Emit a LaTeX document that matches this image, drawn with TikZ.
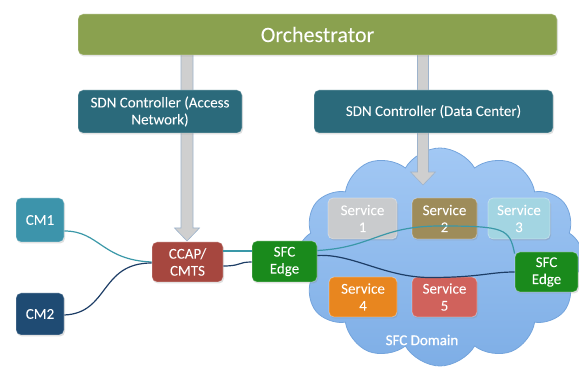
\documentclass[tikz,border=0pt]{standalone}
\usepackage{fontspec}
\setmainfont{Carlito}[FakeBold=0.8,AutoFakeBold=0]
\newfontfamily\boxfont{Carlito}[FakeBold=0.9]
\usetikzlibrary{shapes.symbols,shadows}
\definecolor{orchc}{HTML}{8AA14F}
\definecolor{sdnc}{HTML}{2B6A7B}
\definecolor{cmonec}{HTML}{3D94AB}
\definecolor{cmtwoc}{HTML}{1F4B73}
\definecolor{ccapc}{HTML}{A6473F}
\definecolor{sfcc}{HTML}{1A8A1C}
\definecolor{svonec}{HTML}{C9CBCD}
\definecolor{svtwoc}{HTML}{9E8C5A}
\definecolor{svthreec}{HTML}{A3D5E2}
\definecolor{svfourc}{HTML}{E8861F}
\definecolor{svfivec}{HTML}{D0625C}
\definecolor{tealline}{HTML}{3A98A8}
\definecolor{navyline}{HTML}{1D3D66}
\definecolor{cloudtop}{HTML}{A2C8F4}
\definecolor{cloudbot}{HTML}{7EAEE6}
\definecolor{cloudedge}{HTML}{74A4DC}
\definecolor{arrowfill}{HTML}{CFCFCF}
\definecolor{arrowedge}{HTML}{9DB3CC}
\tikzset{
  box/.style={rounded corners=5pt, text=white, align=center, inner sep=0pt,
    font=\boxfont\fontsize{15}{17}\selectfont, draw=white, draw opacity=0.35, line width=0.8pt,
    drop shadow={shadow xshift=1pt, shadow yshift=-1.5pt, opacity=0.25}},
  conn/.style={line width=1.2pt},
  garrow/.style={fill=arrowfill, draw=arrowedge, line width=0.6pt, line join=miter},
}
\newcommand{\grayarrow}[4]{% x, ytop, ybot, shaft half width
  \draw[garrow] (#1-#4,#2) -- (#1+#4,#2) -- (#1+#4,#3-13) -- (#1+12.5,#3-13) -- (#1,#3) -- (#1-12.5,#3-13) -- (#1-#4,#3-13) -- cycle;}
\begin{document}
\begin{tikzpicture}[x=1pt,y=-1pt]
\useasboundingbox (0,0) rectangle (579,371);
% cloud
\node[cloud, cloud puffs=12, cloud puff arc=120, aspect=1.3, minimum width=286pt, minimum height=218pt,
  top color=cloudtop, bottom color=cloudbot, draw=cloudedge, line width=0.8pt, inner sep=0pt] (dom) at (440,257) {};
\node[text=white, font=\boxfont\fontsize{15}{17}\selectfont] (domlabel) at (422,340) {SFC Domain};
% gray arrows
\grayarrow{187}{54}{241}{6}
\grayarrow{423}{54}{185}{5.5}
% top
\node[box, fill=orchc, minimum width=479pt, minimum height=41pt, font=\boxfont\fontsize{22}{24}\selectfont] (orch) at (317.5,34.5) {Orchestrator};
\node[box, fill=sdnc, minimum width=164pt, minimum height=43pt] (sdnA) at (160,111.5) {SDN Controller (Access\\Network)};
\node[box, fill=sdnc, minimum width=239pt, minimum height=43pt] (sdnD) at (433.5,111.5) {SDN Controller (Data Center)};
% access
\node[box, fill=cmonec, minimum width=48pt, minimum height=44pt] (cm1) at (40,220) {CM1};
\node[box, fill=cmtwoc, minimum width=48pt, minimum height=42pt] (cm2) at (40,314) {CM2};
\node[box, fill=ccapc, minimum width=71pt, minimum height=40pt] (ccap) at (187.5,262) {CCAP/\\CMTS};
\node[box, fill=sfcc, minimum width=65pt, minimum height=41pt] (sfcL) at (284.5,261.5) {SFC\\Edge};
% services
\node[box, fill=svonec, minimum width=69pt, minimum height=41pt] (s1) at (362.5,218.5) {Service\\1};
\node[box, fill=svtwoc, minimum width=65pt, minimum height=41pt] (s2) at (444.5,218.5) {Service\\2};
\node[box, fill=svthreec, minimum width=62pt, minimum height=41pt] (s3) at (519,218.5) {Service\\3};
\node[box, fill=svfourc, minimum width=68pt, minimum height=40pt] (s4) at (363,297) {Service\\4};
\node[box, fill=svfivec, minimum width=65pt, minimum height=40pt] (s5) at (444.5,297) {Service\\5};
\node[box, fill=sfcc, minimum width=63pt, minimum height=40pt] (sfcR) at (546.5,272) {SFC\\Edge};
% connectors
\draw[conn, tealline] ([yshift=-11pt]cm1.east) .. controls +(35,0) and +(-50,-2) .. (ccap.west);
\draw[conn, navyline] ([yshift=-1pt]cm2.east) .. controls +(45,-2) and +(-52,0) .. ([yshift=-1pt]ccap.west);
\draw[conn, tealline] ([yshift=11pt]ccap.east) -- ([yshift=10.5pt]sfcL.west);
\draw[conn, navyline] ([yshift=-4pt]ccap.east) .. controls +(18,0) and +(-14,0) .. ([yshift=-0.5pt]sfcL.west);
\coordinate (tmid) at (440,226);
\draw[conn, tealline] ([yshift=11pt]sfcL.east) .. controls +(55,-3) and +(-60,0) .. (tmid)
  .. controls +(65,0) and +(-5,-25) .. ([yshift=-2pt]sfcR.north west);
\coordinate (nmid) at (430,277.5);
\draw[conn, navyline] ([yshift=6pt]sfcL.east) .. controls +(35,-2) and +(-45,0) .. (nmid)
  .. controls +(50,0) and +(-25,0) .. (sfcR.west);
\end{tikzpicture}
\end{document}
